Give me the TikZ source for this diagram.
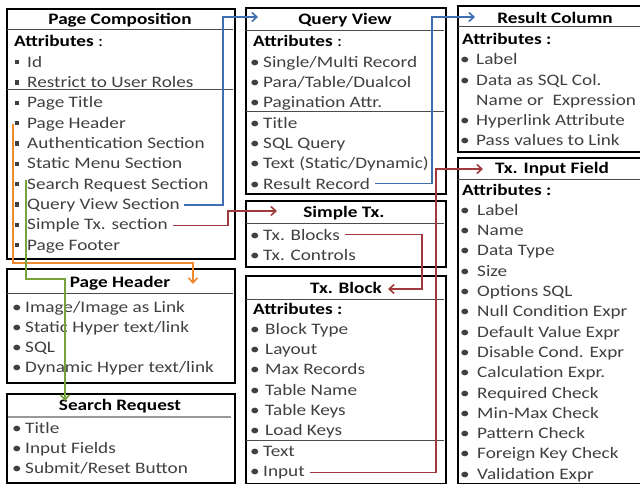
\documentclass[tikz,border=0pt]{standalone}
\usepackage{fontspec}
\setmainfont{Carlito}[FakeStretch=1.2]
\usetikzlibrary{arrows.meta}
\definecolor{cblue}{HTML}{3F6FB0}
\definecolor{cred}{HTML}{A0393B}
\definecolor{corange}{HTML}{F08A2C}
\definecolor{cgreen}{HTML}{76A33A}
\newcommand\fs{\fontsize{16}{19}\selectfont}
\newcommand\sqb{\rule[2.8pt]{4.3pt}{4.3pt}\hspace{7.7pt}}
\newcommand\rb[1]{\makebox[#1][l]{\textbullet}}
\tikzset{
 box/.style={draw=black, line width=1.8pt, inner sep=0pt, anchor=north west},
 ttl/.style={font=\fs\bfseries, anchor=base, inner sep=0pt, text=black},
 itm/.style={font=\fs, anchor=base west, inner sep=0pt, text=black!75},
 attr/.style={font=\fs, anchor=base west, inner sep=0pt, text=black},
 divl/.style={draw=black!70, line width=1pt},
 conn/.style={line width=1.6pt, -{Straight Barb[length=5pt,width=9pt]}},
}
\begin{document}
\begin{tikzpicture}[x=1pt,y=-1pt]
\useasboundingbox (0,0) rectangle (640,484);
\clip (0,0) rectangle (640,484);
% ---------- boxes
\node[box, minimum width=228pt, minimum height=250pt] (pcbox) at (6,8) {};
\node[box, minimum width=228pt, minimum height=114pt] (phbox) at (6,268) {};
\node[box, minimum width=228pt, minimum height=89pt] (srbox) at (6,393) {};
\node[box, minimum width=200pt, minimum height=186pt] (qvbox) at (245,7) {};
\node[box, minimum width=200pt, minimum height=66pt] (stbox) at (245,200) {};
\node[box, minimum width=200pt, minimum height=208pt] (tbbox) at (245,275) {};
\node[box, minimum width=193pt, minimum height=146pt] (rcbox) at (457,5) {};
\node[box, minimum width=193pt, minimum height=326pt] (tibox) at (457,157) {};
% ---------- dividers
\draw[divl] (7,30) -- (233,30);
\draw[divl] (7,90) -- (233,90);
\draw[divl] (7,293) -- (233,293);
\draw[draw=black!40, line width=1.5pt] (8,417) -- (231,417);
\draw[divl] (246,31) -- (444,31);
\draw[divl] (246,112) -- (444,112);
\draw[divl] (246,223) -- (444,223);
\draw[divl] (246,299) -- (444,299);
\draw[divl] (246,440) -- (444,440);
\draw[divl] (458,27) -- (640,27);
\draw[divl] (458,179) -- (640,179);
% ---------- Page Composition
\node[ttl] (pc-t) at (120,25) {Page Composition};
\node[attr] (pc-a) at (14,47) {\textbf{Attributes} :};
\node[itm] (pc-id) at (15,67.3) {\sqb Id};
\node[itm] (pc-ru) at (15,87.6) {\sqb Restrict to User Roles};
\node[itm] (pc-pt) at (15,107.9) {\sqb Page Title};
\node[itm] (pc-ph) at (15,128.2) {\sqb Page Header};
\node[itm] (pc-as) at (15,148.5) {\sqb Authentication Section};
\node[itm] (pc-sm) at (15,168.8) {\sqb Static Menu Section};
\node[itm] (pc-sr) at (15,189.1) {\sqb Search Request Section};
\node[itm] (pc-qv) at (15,209.4) {\sqb Query View Section};
\node[itm] (pc-st) at (15,229.7) {\sqb Simple Tx. section};
\node[itm] (pc-pf) at (15,250) {\sqb Page Footer};
% ---------- Page Header
\node[ttl] (ph-t) at (120,287) {Page Header};
\node[itm] (ph-1) at (12,312) {\rb{13pt}Image/Image as Link};
\node[itm] (ph-2) at (12,332.3) {\rb{13pt}Static Hyper text/link};
\node[itm] (ph-3) at (12,352.6) {\rb{13pt}SQL};
\node[itm] (ph-4) at (12,372.9) {\rb{13pt}Dynamic Hyper text/link};
% ---------- Search Request
\node[ttl] (sr-t) at (120,410) {Search Request};
\node[itm] (sr-1) at (12,433) {\rb{13pt}Title};
\node[itm] (sr-2) at (12,453.3) {\rb{13pt}Input Fields};
\node[itm] (sr-3) at (12,473.6) {\rb{13pt}Submit/Reset Button};
% ---------- Query View
\node[ttl] (qv-t) at (345,25) {Query View};
\node[attr] (qv-a) at (253,47) {\textbf{Attributes} :};
\node[itm] (qv-1) at (250,67.3) {\rb{13pt}Single/Multi Record};
\node[itm] (qv-2) at (250,87.6) {\rb{13pt}Para/Table/Dualcol};
\node[itm] (qv-3) at (250,107.9) {\rb{13pt}Pagination Attr.};
\node[itm] (qv-4) at (250,128.2) {\rb{13pt}Title};
\node[itm] (qv-5) at (250,148.5) {\rb{13pt}SQL Query};
\node[itm] (qv-6) at (250,168.8) {\rb{13pt}Text (Static/Dynamic)};
\node[itm] (qv-rr) at (250,189.1) {\rb{13pt}Result Record};
% ---------- Simple Tx.
\node[ttl] (st-t) at (344,217) {Simple Tx.};
\node[itm] (st-tb) at (250,240) {\rb{13pt}Tx. Blocks};
\node[itm] (st-tc) at (250,260.3) {\rb{13pt}Tx. Controls};
% ---------- Tx. Block
\node[ttl] (tb-t) at (346,293) {Tx. Block};
\node[attr] (tb-a) at (253,314) {\textbf{Attributes :}};
\node[itm] (tb-1) at (250,334.3) {\rb{15pt}Block Type};
\node[itm] (tb-2) at (250,354.6) {\rb{15pt}Layout};
\node[itm] (tb-3) at (250,374.9) {\rb{15pt}Max Records};
\node[itm] (tb-4) at (250,395.2) {\rb{15pt}Table Name};
\node[itm] (tb-5) at (250,415.5) {\rb{15pt}Table Keys};
\node[itm] (tb-6) at (250,435.8) {\rb{15pt}Load Keys};
\node[itm] (tb-tx) at (250,456.1) {\rb{13pt}Text};
\node[itm] (tb-in) at (250,476.4) {\rb{13pt}Input};
% ---------- Result Column
\node[ttl] (rc-t) at (555,24) {Result Column};
\node[attr] (rc-a) at (462,44.5) {\textbf{Attributes :}};
\node[itm] (rc-1) at (460,64.8) {\rb{16pt}Label};
\node[itm] (rc-2) at (460,85.1) {\rb{16pt}Data as SQL Col.};
\node[itm] (rc-2b) at (476,105.4) {Name or\ \ Expression};
\node[itm] (rc-3) at (460,125.7) {\rb{16pt}Hyperlink Attribute};
\node[itm] (rc-4) at (460,146) {\rb{16pt}Pass values to Link};
% ---------- Tx. Input Field
\node[ttl] (ti-t) at (552,174) {Tx. Input Field};
\node[attr] (ti-a) at (462,195) {\textbf{Attributes :}};
\node[itm] (ti-1) at (460,215.3) {\rb{17pt}Label};
\node[itm] (ti-2) at (460,235.6) {\rb{17pt}Name};
\node[itm] (ti-3) at (460,255.9) {\rb{17pt}Data Type};
\node[itm] (ti-4) at (460,276.2) {\rb{17pt}Size};
\node[itm] (ti-5) at (460,296.5) {\rb{17pt}Options SQL};
\node[itm] (ti-6) at (460,316.8) {\rb{17pt}Null Condition Expr};
\node[itm] (ti-7) at (460,337.1) {\rb{17pt}Default Value Expr};
\node[itm] (ti-8) at (460,357.4) {\rb{17pt}Disable Cond. Expr};
\node[itm] (ti-9) at (460,377.7) {\rb{17pt}Calculation Expr.};
\node[itm] (ti-10) at (460,398) {\rb{17pt}Required Check};
\node[itm] (ti-11) at (460,418.3) {\rb{17pt}Min-Max Check};
\node[itm] (ti-12) at (460,438.6) {\rb{17pt}Pattern Check};
\node[itm] (ti-13) at (460,458.9) {\rb{17pt}Foreign Key Check};
\node[itm] (ti-14) at (460,479.2) {\rb{17pt}Validation Expr};
% ---------- connector coordinates
\coordinate (b1) at (223,17);   \coordinate (qvtip) at (258,17);
\coordinate (b2) at (432,17);   \coordinate (rctip) at (475,17);
\coordinate (b3) at (228,211);  \coordinate (sttip) at (277,211);
\coordinate (b4) at (422,289);  \coordinate (tbtip) at (388,289);
\coordinate (b5) at (436,169);  \coordinate (titip) at (483,169);
\coordinate (os) at (13,124);   \coordinate (ob) at (193,263);  \coordinate (phtip) at (193,284);
\coordinate (gs) at (26,180);   \coordinate (gb) at (65,279);   \coordinate (srtip) at (65,401);
% ---------- connectors
\draw[conn, cblue] ([xshift=4pt]pc-qv.east) -| (b1) -- (qvtip);
\draw[conn, cblue] ([xshift=5pt]qv-rr.east) -| (b2) -- (rctip);
\draw[conn, cred] ([xshift=5pt]pc-st.east) -| (b3) -- (sttip);
\draw[conn, cred] ([xshift=5pt]st-tb.east) -| (b4) -- (tbtip);
\draw[conn, cred] ([xshift=5pt]tb-in.east) -| (b5) -- (titip);
\draw[conn, corange] (os) |- (ob) -- (phtip);
\draw[conn, cgreen] (gs) |- (gb) -- (srtip);
\end{tikzpicture}
\end{document}
